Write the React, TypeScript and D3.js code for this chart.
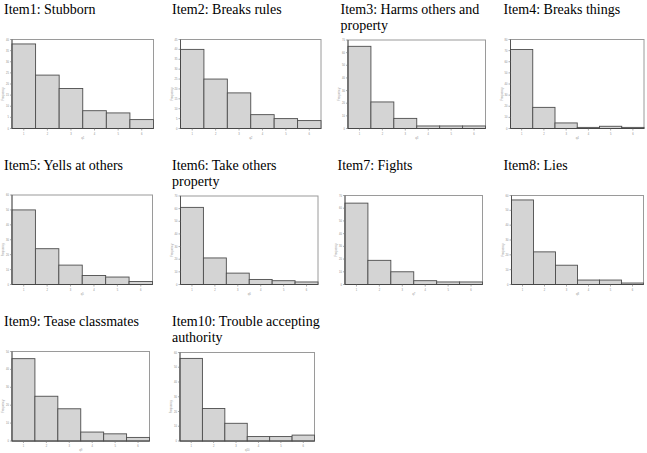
import React from "react";
import * as d3 from "d3";

const titles: string[][] = [
  ["Item1: Stubborn"],
  ["Item2: Breaks rules"],
  ["Item3: Harms others and", "property"],
  ["Item4: Breaks things"],
  ["Item5: Yells at others"],
  ["Item6: Take others", "property"],
  ["Item7: Fights"],
  ["Item8: Lies"],
  ["Item9: Tease classmates"],
  ["Item10: Trouble accepting", "authority"],
];
const categories = ["1", "2", "3", "4", "5", "6"];
const item1 = [38, 24, 18, 8, 7, 4];
const item2 = [40, 25, 18, 7, 5, 4];
const item3 = [65, 21, 8, 2, 2, 2];
const item4 = [71, 19, 5, 1, 2, 1];
const item5 = [50, 24, 13, 6, 5, 2];
const item6 = [61, 21, 9, 4, 3, 2];
const item7 = [64, 19, 10, 3, 2, 2];
const item8 = [57, 22, 13, 3, 3, 1];
const item9 = [46, 25, 18, 5, 4, 2];
const item10 = [56, 22, 12, 3, 3, 4];
const series = [item1, item2, item3, item4, item5, item6, item7, item8, item9, item10];
const yMaxes = [40, 45, 70, 80, 60, 70, 70, 60, 50, 60];
const ySteps = [5, 5, 10, 10, 10, 10, 10, 10, 10, 10];
const xNames = ["q1", "q2", "q3", "q4", "q5", "q6", "q7", "q8", "q9", "q10"];

// layout: title position and plot frame (page coordinates)
const layout = [
  { tx: 4, ty: 14, x0: 12, x1: 153.5, y0: 39.5, y1: 128.5 },
  { tx: 172, ty: 14, x0: 180.5, x1: 321, y0: 39.5, y1: 128.5 },
  { tx: 340.5, ty: 14, x0: 348, x1: 485.5, y0: 40, y1: 128.5 },
  { tx: 503.5, ty: 14, x0: 510.5, x1: 644, y0: 39.5, y1: 128.5 },
  { tx: 4, ty: 169.5, x0: 12, x1: 152.5, y0: 195, y1: 284.5 },
  { tx: 172, ty: 169.5, x0: 180.5, x1: 318, y0: 196, y1: 284.5 },
  { tx: 337.5, ty: 169.5, x0: 345, x1: 482.5, y0: 195.5, y1: 284.5 },
  { tx: 503.5, ty: 169.5, x0: 511.5, x1: 643.5, y0: 195.5, y1: 284.5 },
  { tx: 4, ty: 326, x0: 12, x1: 149.5, y0: 351.5, y1: 441 },
  { tx: 172, ty: 326, x0: 180, x1: 314.5, y0: 352.5, y1: 441 },
];

function Panel({ i }: { i: number }) {
  const L = layout[i];
  const data = series[i];
  const x = d3.scaleBand<string>().domain(categories).range([L.x0, L.x1]).padding(0);
  const y = d3.scaleLinear().domain([0, yMaxes[i]]).range([L.y1, L.y0]);
  const ticks = d3.range(0, yMaxes[i] + 0.001, ySteps[i]);
  return (
    <g>
      {titles[i].map((t, k) => (
        <text
          key={k}
          x={L.tx}
          y={L.ty + k * 16.3}
          style={{ fontFamily: '"Liberation Serif"', fontSize: "14px" }}
          fill="#000"
        >
          {t}
        </text>
      ))}
      <rect
        x={L.x0}
        y={L.y0}
        width={L.x1 - L.x0}
        height={L.y1 - L.y0}
        fill="#fff"
        stroke="#9a9a9a"
        strokeWidth={1}
      />
      {data.map((v, k) => (
        <rect
          key={k}
          x={x(categories[k])!}
          y={y(v)}
          width={x.bandwidth()}
          height={L.y1 - y(v)}
          fill="#d4d4d4"
          stroke="#4d4d4d"
          strokeWidth={0.9}
        />
      ))}
      <line x1={L.x0} x2={L.x0} y1={L.y0} y2={L.y1} stroke="#444" strokeWidth={0.8} />
      <line x1={L.x0} x2={L.x1} y1={L.y1} y2={L.y1} stroke="#444" strokeWidth={0.8} />
      {ticks.map((t) => (
        <g key={t}>
          <line x1={L.x0 - 2} x2={L.x0} y1={y(t)} y2={y(t)} stroke="#777" strokeWidth={0.6} />
          <text
            x={L.x0 - 3}
            y={y(t) + 1}
            textAnchor="end"
            fill="#888"
            style={{ fontFamily: '"Liberation Sans"', fontSize: "2.6px" }}
          >
            {t}
          </text>
        </g>
      ))}
      {categories.map((c) => (
        <g key={c}>
          <line
            x1={x(c)! + x.bandwidth() / 2}
            x2={x(c)! + x.bandwidth() / 2}
            y1={L.y1}
            y2={L.y1 + 2}
            stroke="#777"
            strokeWidth={0.6}
          />
          <text
            x={x(c)! + x.bandwidth() / 2}
            y={L.y1 + 6}
            textAnchor="middle"
            fill="#888"
            style={{ fontFamily: '"Liberation Sans"', fontSize: "2.6px" }}
          >
            {c}
          </text>
        </g>
      ))}
      <text
        transform={`translate(${L.x0 - 8},${(L.y0 + L.y1) / 2 + 10}) rotate(-90)`}
        textAnchor="middle"
        fill="#999"
        style={{ fontFamily: '"Liberation Sans"', fontSize: "2.8px" }}
      >
        Frequency
      </text>
      <text
        x={(L.x0 + L.x1) / 2}
        y={L.y1 + 10}
        textAnchor="middle"
        fill="#999"
        style={{ fontFamily: '"Liberation Sans"', fontSize: "2.8px" }}
      >
        {xNames[i]}
      </text>
    </g>
  );
}

export default function App() {
  return (
    <svg
      width={647}
      height={453}
      style={{ position: "absolute", left: 0, top: 0, background: "#fff" }}
    >
      <rect x={0} y={0} width={647} height={453} fill="#fff" />
      {series.map((_, i) => (
        <Panel key={i} i={i} />
      ))}
    </svg>
  );
}
